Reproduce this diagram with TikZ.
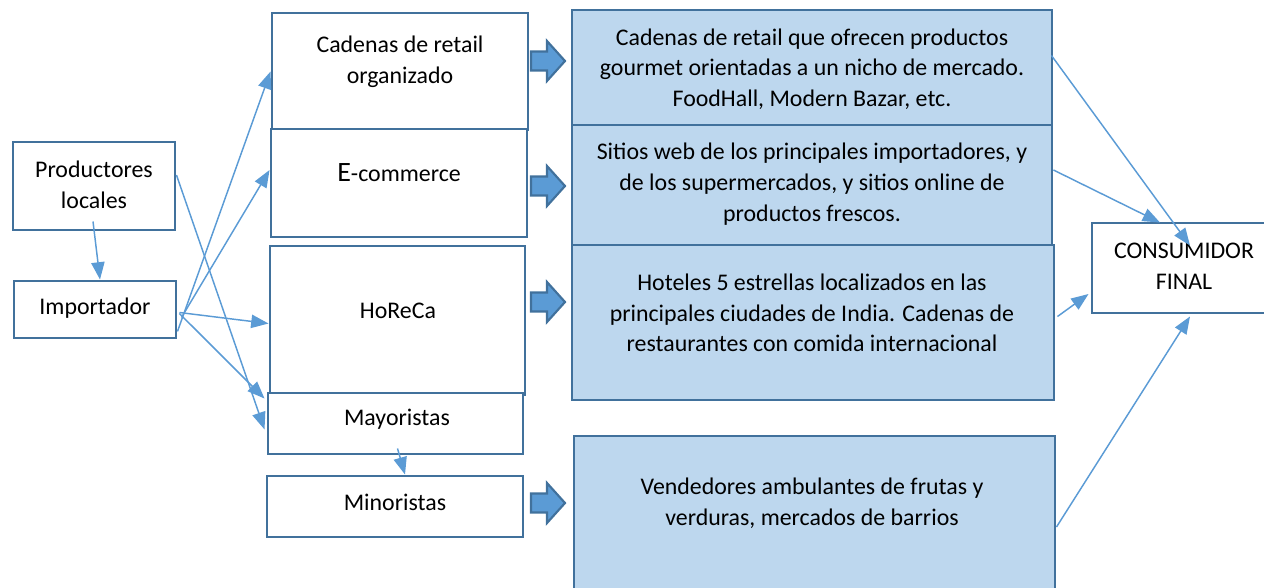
\documentclass[tikz,border=0pt]{standalone}
\usepackage{fontspec}
\setmainfont{Carlito}
\usetikzlibrary{arrows.meta,calc}
\definecolor{bordc}{HTML}{41719C}
\definecolor{fillc}{HTML}{BDD7EE}
\definecolor{linec}{HTML}{5B9BD5}
\begin{document}
\begin{tikzpicture}[x=0.75pt,y=-0.75pt,
  wbox/.style={draw=bordc,line width=2.2pt,fill=white,inner sep=0pt},
  bbox/.style={draw=bordc,line width=2.2pt,fill=fillc,inner sep=0pt},
  txt/.style={align=center,inner sep=0pt,font=\fontsize{17.9}{23}\selectfont},
  conn/.style={draw=linec,line width=1.1pt,-{Triangle[length=13pt,width=10pt]}},
  blk/.style={draw=bordc,line width=1.6pt,fill=linec}]
\useasboundingbox (0,0) rectangle (1264,587);
% boxes
\node (prod) at (94,186) [minimum width=121.5pt,minimum height=66pt,wbox] {};
\node (imp) at (95,309.5) [minimum width=121.5pt,minimum height=42.75pt,wbox] {};
\node (cad) at (400,71.5) [minimum width=192pt,minimum height=87.75pt,wbox] {};
\node (ecom) at (399,183) [minimum width=192pt,minimum height=81pt,wbox] {};
\node (hor) at (397.5,320.5) [minimum width=191.25pt,minimum height=111.75pt,wbox] {};
\node (may) at (395.5,423.5) [minimum width=191.25pt,minimum height=45.75pt,wbox] {};
\node (min) at (395,506.5) [minimum width=192pt,minimum height=45.75pt,wbox] {};
\node (b1) at (812,67.5) [minimum width=360pt,minimum height=86.25pt,bbox] {};
\node (b2) at (812,185) [minimum width=360pt,minimum height=90pt,bbox] {};
\node (b3) at (813,322.5) [minimum width=361.5pt,minimum height=116.25pt,bbox] {};
\node (b4) at (814.5,516) [minimum width=360.75pt,minimum height=120pt,bbox] {};
\node (cons) at (1184,268) [minimum width=138pt,minimum height=67.5pt,wbox] {};
% texts
\node[txt] (tprod) at (94,185) {Productores\\locales};
\node[txt] (timp) at (95,308) {Importador};
\node[txt] (tcad) at (400,62) {Cadenas de retail\\organizado};
\node[txt] (tecom) at (399,173) {{\fontsize{21}{23}\selectfont E}-commerce};
\node[txt] (thor) at (398,311) {HoReCa};
\node[txt] (tmay) at (397,419) {Mayoristas};
\node[txt] (tmin) at (395,502) {Minoristas};
\node[txt] (tb1) at (812,69) {Cadenas de retail que ofrecen productos\\gourmet orientadas a un nicho de mercado.\\FoodHall, Modern Bazar, etc.};
\node[txt] (tb2) at (812,184) {Sitios web de los principales importadores, y\\de los supermercados, y sitios online de\\productos frescos.};
\node[txt] (tb3) at (812,313) {Hoteles 5 estrellas localizados en las\\principales ciudades de India. Cadenas de\\restaurantes con comida internacional};
\node[txt] (tb4) at (812,503) {Vendedores ambulantes de frutas y\\verduras, mercados de barrios};
\node[txt] (tcons) at (1184,266) {CONSUMIDOR\\FINAL};
% block arrows
\foreach \c in {61,186,302,503}{
  \draw[blk] (531,\c-9.5) -- (547,\c-9.5) -- (547,\c-20) -- (565,\c) -- (547,\c+20) -- (547,\c+9.5) -- (531,\c+9.5) -- cycle;
}
% connectors
\draw[conn] ($(prod.south)+(-1,-10)$) -- ($(imp.north)+(5,0)$);
\draw[conn] ($(imp.south east)+(0,-8)$) -- (cad.west);
\draw[conn] ($(imp.east)+(4,8)$) -- ($(ecom.west)+(0,-13)$);
\draw[conn] ($(imp.east)+(2,3)$) -- ($(hor.west)+(0,3)$);
\draw[conn] ($(imp.east)+(2,4)$) -- ($(may.north west)+(-2,7)$);
\draw[conn] ($(prod.east)+(0,-11)$) -- ($(may.west)+(-2,6)$);
\draw[conn] ($(may.south)+(2,-7)$) -- ($(min.north)+(10,0)$);
\draw[conn] ($(b1.east)+(-2,-12)$) -- ($(cons.north)+(6,24)$);
\draw[conn] ($(b2.east)+(0,-15)$) -- ($(cons.north)+(-24,1)$);
\draw[conn] ($(b3.east)+(2,-6)$) -- ($(cons.west)+(-2,26)$);
\draw[conn] ($(b4.east)+(0,11)$) -- ($(cons.south)+(6,2)$);
\end{tikzpicture}
\end{document}
